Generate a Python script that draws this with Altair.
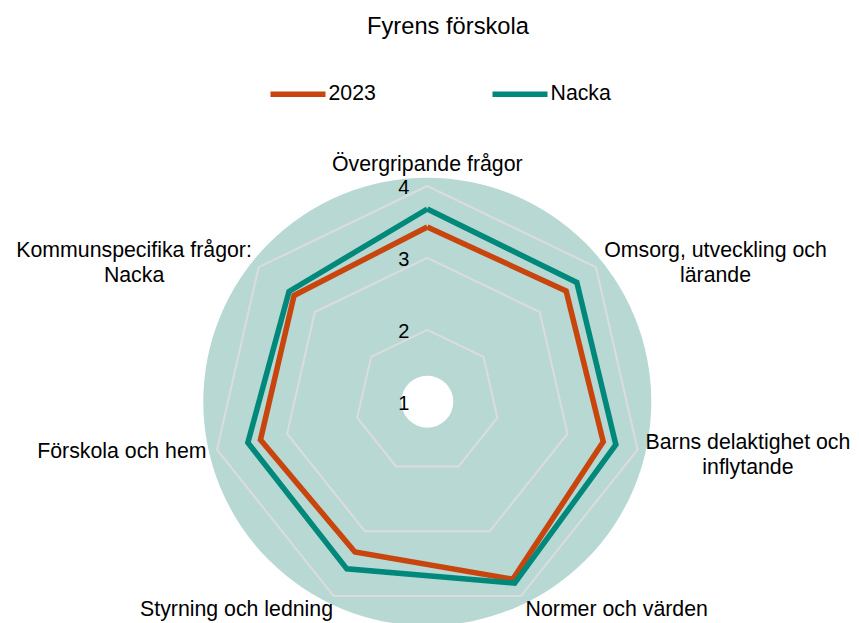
import math
import altair as alt
import pandas as pd

# ---------------- data ----------------
title_text = "Fyrens förskola"
categories = [
    "Övergripande frågor",
    "Omsorg, utveckling och\nlärande",
    "Barns delaktighet och\ninflytande",
    "Normer och värden",
    "Styrning och ledning",
    "Förskola och hem",
    "Kommunspecifika frågor:\nNacka",
]
series_names = ["2023", "Nacka"]
values_2023 = [3.43, 3.47, 3.51, 3.74, 3.32, 3.38, 3.37]
values_nacka = [3.68, 3.66, 3.69, 3.80, 3.58, 3.56, 3.46]
grid_levels = [2, 3, 4]
tick_values = [1, 2, 3, 4]
tick_labels = ["1", "2", "3", "4"]
r_min = 1

# ---------------- tables ----------------
N = len(categories)
rows = []
for name, vals in zip(series_names, [values_2023, values_nacka]):
    for i in range(N + 1):
        rows.append({"series": name, "idx": i, "value": vals[i % N]})
series_df = pd.DataFrame(rows)

grid_df = pd.DataFrame(
    [{"level": lv, "idx": i, "value": lv} for lv in grid_levels for i in range(N + 1)]
)
label_df = pd.DataFrame({"idx": list(range(N)), "label": categories})
tick_df = pd.DataFrame({"value": tick_values, "text": tick_labels, "zero": 0})
center_df = pd.DataFrame({"cx": [0.0], "cy": [0.0]})

# ---------------- layout ----------------
W, H = 843, 615
CX, CY = 419.3, 393.7   # centre of the radar inside the plot area (px)
K = 71.9                # px per value unit
R_LABEL = 3.15          # label radius in value units
CHAR_W = 10.1           # approx px per character for wrapped labels
XMAX = (W - CX) / K

xs = alt.Scale(domain=[-CX / K, XMAX], nice=False, zero=False)
ys = alt.Scale(domain=[-(H - CY) / K, CY / K], nice=False, zero=False)

FONT = "Liberation Sans"
ORANGE = "#c8450d"
TEAL = "#00897b"
BG = "#b8d8d4"
GRID = "#dcdcdc"

ang = f"datum.idx * 2 * PI / {N}"


def polar(ch):
    return ch.transform_calculate(
        r=f"datum.value - {r_min}"
    ).transform_calculate(
        px=f"datum.r * sin({ang})", py=f"datum.r * cos({ang})"
    )


X = alt.X("px:Q", scale=xs, axis=None)
Y = alt.Y("py:Q", scale=ys, axis=None)

background = alt.Chart(center_df).mark_arc(
    theta=0, theta2=2 * math.pi, radius=224, radius2=26, fill=BG
).encode(
    x=alt.X("cx:Q", scale=xs, axis=None),
    y=alt.Y("cy:Q", scale=ys, axis=None),
)

grid = polar(alt.Chart(grid_df)).mark_line(
    stroke=GRID, strokeWidth=2
).encode(x=X, y=Y, detail="level:N", order="idx:Q")

ticks = alt.Chart(tick_df).transform_calculate(
    py=f"datum.value - {r_min}"
).mark_text(
    align="right", baseline="middle", dx=-18, dy=2, fontSize=20, font=FONT, color="black"
).encode(
    x=alt.X("zero:Q", scale=xs, axis=None),
    y=alt.Y("py:Q", scale=ys, axis=None),
    text="text:N",
)

color = alt.Color(
    "series:N",
    scale=alt.Scale(domain=series_names, range=[ORANGE, TEAL]),
    legend=alt.Legend(
        orient="none",
        legendX=259.5,
        legendY=55.5,
        direction="horizontal",
        title=None,
        symbolType="stroke",
        symbolSize=3025,
        symbolStrokeWidth=5.5,
        labelFontSize=21.3,
        labelFont=FONT,
        labelColor="black",
        labelOffset=0,
        columnPadding=105,
        padding=0,
    ),
)


def series_line(name):
    return polar(alt.Chart(series_df)).transform_filter(
        f"datum.series == '{name}'"
    ).mark_line(strokeWidth=5.5, strokeJoin="miter").encode(
        x=X, y=Y, order="idx:Q", color=color
    )


lines = [series_line(n) for n in series_names]

lab_base = alt.Chart(label_df).transform_calculate(
    s=f"sin({ang})", c=f"cos({ang})",
    nl="indexof(datum.label, '\\n')",
).transform_calculate(
    maxlen="datum.nl >= 0 ? max(datum.nl, length(datum.label) - datum.nl - 1) : length(datum.label)",
    ly=f"{R_LABEL} * datum.c + (datum.nl >= 0 ? 9 : (datum.c < -0.5 ? -4 : 0)) / {K}",
).transform_calculate(
    half=f"datum.maxlen * {CHAR_W} / 2 / {K}",
).transform_calculate(
    lx=(
        f"datum.nl >= 0 ? min({R_LABEL} * datum.s + (datum.s > 0 ? 1 : -1) * datum.half, {XMAX} - datum.half + 3 / {K})"
        f" : {R_LABEL} * datum.s + (datum.c < -0.5 && datum.s < 0 ? 4 / {K} : 0)"
    )
)

LX = alt.X("lx:Q", scale=xs, axis=None)
LY = alt.Y("ly:Q", scale=ys, axis=None)
txt = dict(font=FONT, fontSize=21.3, color="black", lineBreak="\n", lineHeight=25)

lab_top = lab_base.transform_filter("datum.c > 0.95").mark_text(
    align="center", baseline="bottom", **txt
).encode(x=LX, y=LY, text="label:N")
lab_right = lab_base.transform_filter("datum.c <= 0.95 && datum.s > 0 && datum.nl < 0").mark_text(
    align="left", baseline="middle", **txt
).encode(x=LX, y=LY, text="label:N")
lab_left = lab_base.transform_filter("datum.c <= 0.95 && datum.s < 0 && datum.nl < 0").mark_text(
    align="right", baseline="middle", **txt
).encode(x=LX, y=LY, text="label:N")
lab_multi = lab_base.transform_filter("datum.nl >= 0").mark_text(
    align="center", baseline="middle", **txt
).encode(x=LX, y=LY, text="label:N")

chart = alt.layer(
    background, grid, ticks, *lines, lab_top, lab_right, lab_left, lab_multi
).properties(
    width=W,
    height=H,
    title=alt.TitleParams(
        title_text, fontSize=23.7, font=FONT, fontWeight="normal", color="black",
        anchor="middle", offset=0, baseline="alphabetic", dx=18.5, dy=49.5,
    ),
    autosize=alt.AutoSizeParams(type="none"),
    padding=0,
).configure_view(stroke=None)

chart.save("out.html", embed_options={"renderer": "svg", "actions": False})
